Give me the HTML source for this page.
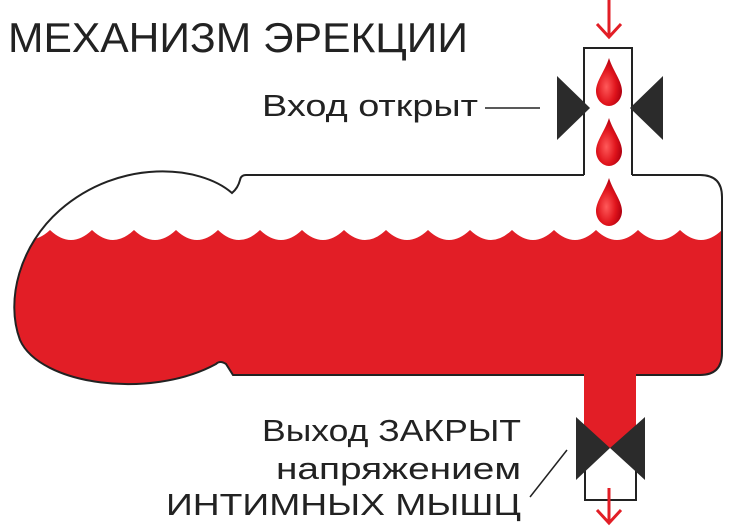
<!DOCTYPE html>
<html><head><meta charset="utf-8"><style>
html,body{margin:0;padding:0;background:#fff;}
svg{display:block;}
text{font-family:"Liberation Sans",sans-serif;fill:#222;}
</style></head><body>
<svg width="734" height="530" viewBox="0 0 734 530" xmlns="http://www.w3.org/2000/svg">
<defs>
<clipPath id="body">
<path d="M242,175 L700,175 Q722,175 722,197 L722,353 Q722,375 700,375 L233,375 L226,364 Q220,360 216,364 C150,400 40,385 20,340 C5,300 20,245 60,210 C120,158 200,165 232,193 Q238,188 238,182 Z"/>
</clipPath>
<radialGradient id="dg" cx="0.4" cy="0.6" r="0.6">
<stop offset="0" stop-color="#ff5a5a"/><stop offset="0.6" stop-color="#e0141c"/><stop offset="1" stop-color="#b00010"/>
</radialGradient>
<g id="drop">
<path d="M0,-25 C-4,-12 -13,-2 -13,8 C-13,17 -6,23 0,23 C6,23 13,17 13,8 C13,-2 4,-12 0,-25 Z" fill="url(#dg)"/>
</g>
</defs>
<g clip-path="url(#body)">
<path d="M0,246 L0,230 Q29,250 50,230 Q71,250 92,230 Q113,250 134,230 Q155,250 176,230 Q197,250 218,230 Q239,250 260,230 Q281,250 302,230 Q323,250 344,230 Q365,250 386,230 Q407,250 428,230 Q449,250 470,230 Q491,250 512,230 Q533,250 554,230 Q575,250 596,230 Q617,250 638,230 Q659,250 680,230 Q701,250 722,230 L734,230 L734,400 L0,400 Z" fill="#e21e26"/>
</g>
<rect x="584" y="370" width="52" height="78" fill="#e21e26"/>
<path d="M584,375 L233,375 L226,364 Q220,360 216,364 C150,400 40,385 20,340 C5,300 20,245 60,210 C120,158 200,165 232,193 Q238,188 240,180 Q241,175 246,175 L584,175" fill="none" stroke="#222" stroke-width="2"/>
<path d="M632,175 L700,175 Q722,175 722,197 L722,353 Q722,375 700,375 L636,375" fill="none" stroke="#222" stroke-width="2"/>
<path d="M584,175 L584,48 L632,48 L632,175" fill="none" stroke="#222" stroke-width="2"/>
<path d="M585,448 L585,500 L636,500 L636,448" fill="none" stroke="#222" stroke-width="2"/>
<polygon points="557,76 590,108 557,140" fill="#2b2b2b"/>
<polygon points="663,76 630,108 663,140" fill="#2b2b2b"/>
<polygon points="576,417 610,448 576,480" fill="#2b2b2b"/>
<polygon points="645,417 610,448 645,480" fill="#2b2b2b"/>
<use href="#drop" x="609" y="83"/>
<use href="#drop" x="609" y="143"/>
<use href="#drop" x="609" y="203"/>
<g stroke="#e21e26" stroke-width="3" fill="none">
<path d="M609,0 L609,36 M597,24 L609,37 L621,24"/>
<path d="M609,488 L609,522 M597,510 L609,523 L621,510"/>
</g>
<line x1="485" y1="108" x2="540" y2="108" stroke="#222" stroke-width="1.5"/>
<line x1="567" y1="450" x2="530" y2="497" stroke="#222" stroke-width="1.5"/>
<text x="8" y="52" font-size="42" textLength="460" lengthAdjust="spacingAndGlyphs">МЕХАНИЗМ ЭРЕКЦИИ</text>
<text x="262" y="116" font-size="31" textLength="216" lengthAdjust="spacingAndGlyphs">Вход открыт</text>
<text x="262" y="441" font-size="31" textLength="259" lengthAdjust="spacingAndGlyphs">Выход ЗАКРЫТ</text>
<text x="276" y="479" font-size="31" textLength="245" lengthAdjust="spacingAndGlyphs">напряжением</text>
<text x="166" y="515" font-size="31" textLength="355" lengthAdjust="spacingAndGlyphs">ИНТИМНЫХ МЫШЦ</text>
</svg>
</body></html>
